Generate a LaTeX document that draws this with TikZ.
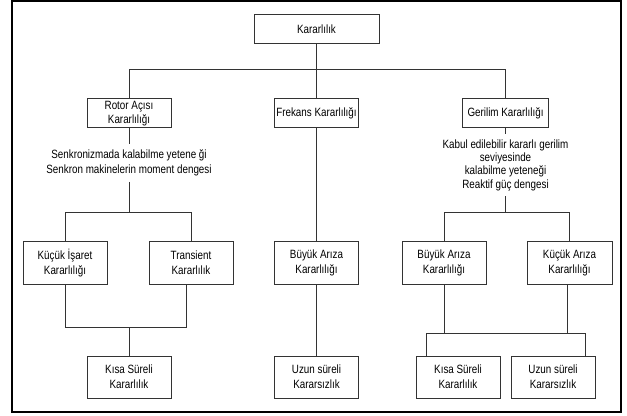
\documentclass[tikz,border=0pt]{standalone}
\usepackage{fontspec}
\setmainfont{Liberation Sans}[FakeStretch=0.82]
\begin{document}
\begin{tikzpicture}[x=0.75pt,y=-0.75pt,
  box/.style={draw=black!80, line width=0.75pt, inner sep=0pt, align=center, minimum width=63pt},
  upper/.style={box, minimum height=21.75pt, font=\fontsize{9}{10.5}\selectfont},
  lower/.style={box, minimum height=31.5pt, font=\fontsize{9}{11.25}\selectfont},
  note/.style={inner xsep=0pt, inner ysep=4pt, align=center},
  conn/.style={draw=black!80, line width=0.75pt}]
\useasboundingbox (0,0) rectangle (627,416);
\draw[line width=1.5pt] (12,1) rectangle (621,412);

% top levels
\node[upper, minimum width=93.75pt] (top) at (316.5,29.5) {Kararlılık};
\node[upper] (rotor) at (129,113.5) {Rotor Açısı\\Kararlılığı};
\node[upper] (frek) at (316.5,113.5) {Frekans Kararlılığı};
\node[upper, minimum width=64.5pt] (geril) at (505.5,113.5) {Gerilim Kararlılığı};

% notes
\node[note, font=\fontsize{9}{11.25}\selectfont] (rtext) at (129,163) {Senkronizmada kalabilme yetene ği\\Senkron makinelerin moment dengesi};
\node[note, font=\fontsize{9}{10}\selectfont] (gtext) at (505.5,165) {Kabul edilebilir kararlı gerilim\\seviyesinde\\kalabilme yeteneği\\Reaktif güç dengesi};

% lower boxes
\node[lower] (ki) at (65,263) {Küçük İşaret\\Kararlılığı};
\node[lower] (tr) at (191,263) {Transient\\Kararlılık};
\node[lower] (bm) at (316.5,263) {Büyük Arıza\\Kararlılığı};
\node[lower] (br) at (444,263) {Büyük Arıza\\Kararlılığı};
\node[lower, minimum width=63.75pt] (kr) at (569.5,263) {Küçük Arıza\\Kararlılığı};
\node[lower] (ksl) at (129,377) {Kısa Süreli\\Kararlılık};
\node[lower] (um) at (316.5,377) {Uzun süreli\\Kararsızlık};
\node[lower] (ksr) at (458,377) {Kısa Süreli\\Kararlılık};
\node[lower] (ur) at (553,377) {Uzun süreli\\Kararsızlık};

% bus levels
\coordinate (b0) at (0,70);
\coordinate (b1) at (0,213);
\coordinate (b2) at (0,327);
\coordinate (b3) at (0,333);
\coordinate (trd) at ([xshift=-3.75pt]tr.south);
\coordinate (k3) at ([xshift=8.25pt]ksr.north west);
\coordinate (u3) at ([xshift=-7.5pt]ur.north east);

% connectors
\draw[conn] (top.south) -- (top.south |- b0);
\draw[conn] (rotor.north) -- (rotor.north |- b0) -- (geril.north |- b0) -- (geril.north);
\draw[conn] (frek.north |- b0) -- (frek.north);

\draw[conn] (rotor.south) -- (rtext.north);
\draw[conn] (rtext.south) -- (rtext.south |- b1);
\draw[conn] (ki.north) -- (ki.north |- b1) -- (tr.north |- b1) -- (tr.north);
\draw[conn] (ki.south) -- (ki.south |- b2) -- (trd |- b2) -- (trd);
\draw[conn] (ksl.north |- b2) -- (ksl.north);

\draw[conn] (frek.south) -- (bm.north);
\draw[conn] (bm.south) -- (um.north);

\draw[conn] (geril.south) -- (gtext.north);
\draw[conn] (gtext.south) -- (gtext.south |- b1);
\draw[conn] (br.north) -- (br.north |- b1) -- (kr.north |- b1) -- (kr.north);
\draw[conn] (br.south) -- (br.south |- b3);
\draw[conn] ([xshift=-1.5pt]kr.south) -- ([xshift=-1.5pt]kr.south |- b3);
\draw[conn] (k3) -- (k3 |- b3) -- (u3 |- b3) -- (u3);
\end{tikzpicture}
\end{document}
